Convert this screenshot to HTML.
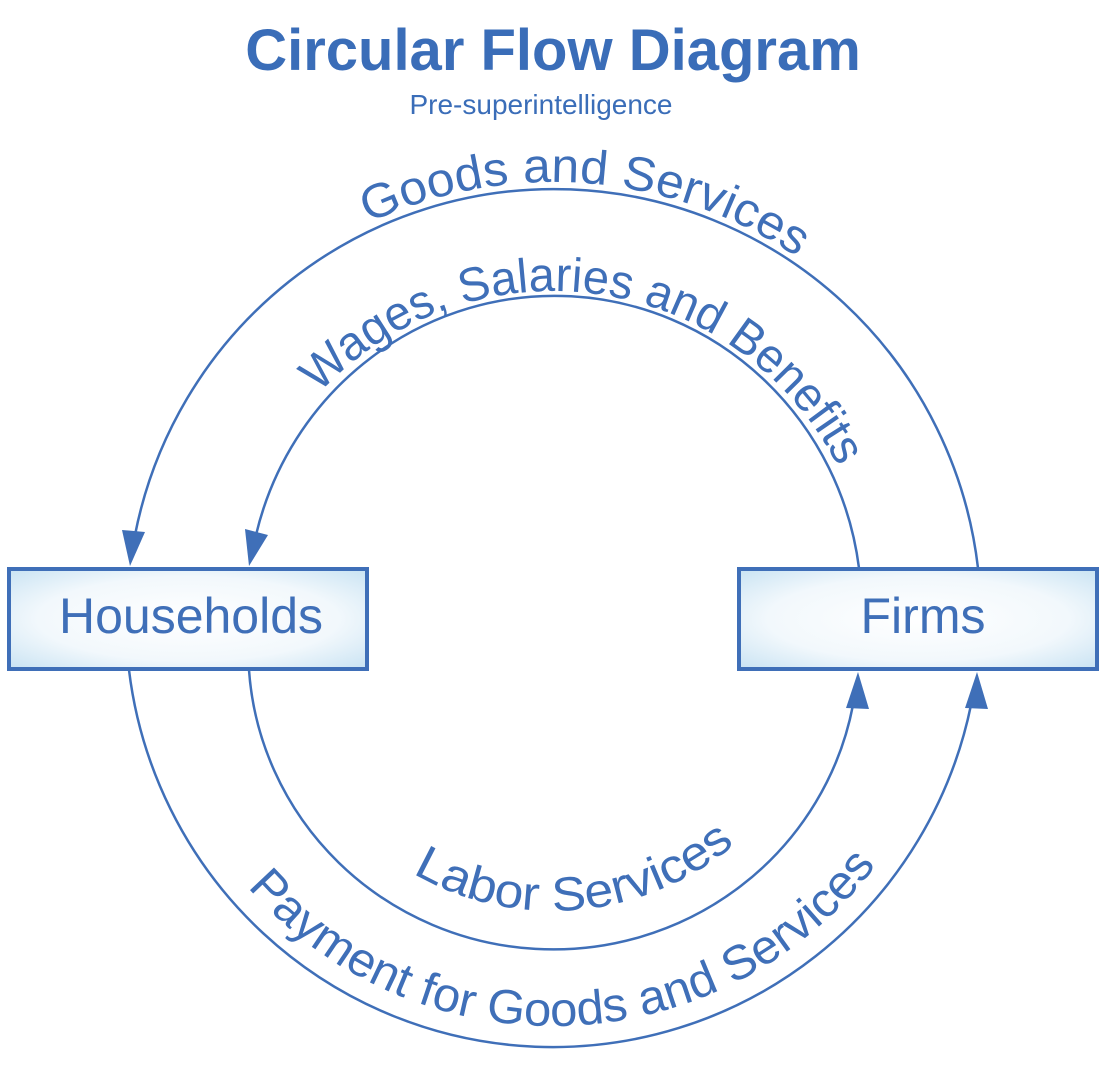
<!DOCTYPE html>
<html><head><meta charset="utf-8"><style>
html,body{margin:0;padding:0;background:#fff;}
svg{display:block;}
</style></head><body>
<svg width="1114" height="1072" viewBox="0 0 1114 1072" xmlns="http://www.w3.org/2000/svg" font-family="Liberation Sans, Arial, sans-serif">
<defs>
<radialGradient id="g" cx="50%" cy="50%" r="70%">
<stop offset="0" stop-color="#ffffff"/><stop offset="0.6" stop-color="#f2f8fc"/><stop offset="1" stop-color="#c9e3f3"/>
</radialGradient>
<path id="pGoods" d="M 118 619 A 435 437 0 0 1 988 619"/>
<path id="pWages" d="M 231 619 A 322 328 0 0 1 875 619"/>
<path id="pLabor" d="M 267 619 A 286 292 0 0 0 839 619"/>
<path id="pPay" d="M 147 619 A 406 407 0 0 0 959 619"/>
</defs>
<text x="553" y="70" text-anchor="middle" font-size="58" font-weight="bold" fill="#3a6db8">Circular Flow Diagram</text>
<text x="541" y="114" text-anchor="middle" font-size="28" fill="#3a6db8">Pre-superintelligence</text>

<g fill="none" stroke="#3f6fb8" stroke-width="2.5">
<path d="M 978 568 A 427 429 0 0 0 135 535"/>
<path d="M 859 568 A 307 312 0 0 0 256 535"/>
<path d="M 129 670 A 427 429 0 0 0 971 705"/>
<path d="M 249 670 A 305 300 0 0 0 853 705"/>
</g>
<g fill="#3f6fb8">
<polygon points="130,566 122,530 145,532"/>
<polygon points="249,566 245,529 268,535"/>
<polygon points="858,672 846,708 869,709"/>
<polygon points="977,672 965,708 988,709"/>
</g>

<rect x="9" y="569" width="358" height="100" fill="url(#g)" stroke="#3f6fb8" stroke-width="4"/>
<rect x="739" y="569" width="358" height="100" fill="url(#g)" stroke="#3f6fb8" stroke-width="4"/>
<text x="191" y="633" text-anchor="middle" font-size="50" fill="#3f6fb8">Households</text>
<text x="923" y="633" text-anchor="middle" font-size="50" fill="#3f6fb8">Firms</text>

<g font-size="48" fill="#3f6fb8">
<text><textPath href="#pGoods" startOffset="52.5%" text-anchor="middle" textLength="450" lengthAdjust="spacingAndGlyphs">Goods and Services</textPath></text>
<text><textPath href="#pWages" startOffset="54.4%" text-anchor="middle" textLength="615" lengthAdjust="spacingAndGlyphs">Wages, Salaries and Benefits</textPath></text>
<text><textPath href="#pLabor" startOffset="52.8%" text-anchor="middle" textLength="345" lengthAdjust="spacingAndGlyphs">Labor Services</textPath></text>
<text><textPath href="#pPay" startOffset="51.1%" text-anchor="middle" textLength="720" lengthAdjust="spacingAndGlyphs">Payment for Goods and Services</textPath></text>
</g>
</svg>
</body></html>
